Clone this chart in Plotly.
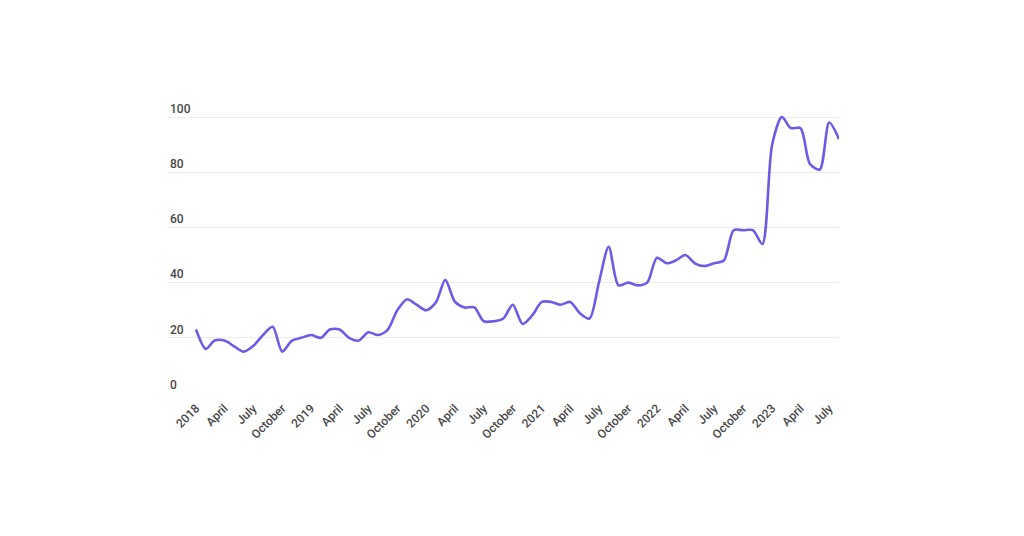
import plotly.graph_objects as go
import pandas as pd

months = pd.date_range("2018-01-01", "2023-08-01", freq="MS").strftime("%Y-%m-%d").tolist()
values = [
    23, 16, 19, 19, 17, 15, 17, 21, 24, 15, 19, 20,   # 2018
    21, 20, 23, 23, 20, 19, 22, 21, 23, 30, 34, 32,   # 2019
    30, 33, 41, 33, 31, 31, 26, 26, 27, 32, 25, 28,   # 2020
    33, 33, 32, 33, 29, 27, 40, 53, 39, 40, 39, 40,   # 2021
    49, 47, 48, 50, 47, 46, 47, 48, 59, 59, 59, 54,   # 2022
    90, 100, 96, 96, 83, 81, 98, 92,                  # 2023
]
tick_dates = pd.date_range("2018-01-01", "2023-07-01", freq="3MS").strftime("%Y-%m-%d").tolist()
tick_labels = []
for d in tick_dates:
    y, m = d[:4], int(d[5:7])
    tick_labels.append(y if m == 1 else {4: "April", 7: "July", 10: "October"}[m])
y_ticks = [0, 20, 40, 60, 80, 100]

fig = go.Figure(go.Scatter(
    x=months, y=values, mode="lines",
    line=dict(color="#6b5be6", width=2.6, shape="spline", smoothing=0.8),
    hoverinfo="skip",
))

label_font = dict(family="Roboto", size=12, color="#474747", weight=500)

fig.update_layout(
    width=1024, height=536,
    margin=dict(l=167, r=185, t=95, b=143),
    paper_bgcolor="white", plot_bgcolor="white",
    showlegend=False,
    font=dict(family="Roboto", size=12, color="#474747"),
    xaxis=dict(
        range=["2017-10-01", "2023-08-01"],
        tickvals=tick_dates, ticktext=tick_labels,
        tickangle=-45, showgrid=False, zeroline=False, showline=False,
        ticks="", tickfont=label_font, ticklabelstandoff=5,
    ),
    yaxis=dict(
        range=[0, 108], tickvals=y_ticks,
        ticklabelposition="inside top",
        showgrid=True, gridcolor="#ececec", gridwidth=1,
        zeroline=False, showline=False, ticks="",
        tickfont=label_font,
    ),
)

fig.write_html("out.html")
